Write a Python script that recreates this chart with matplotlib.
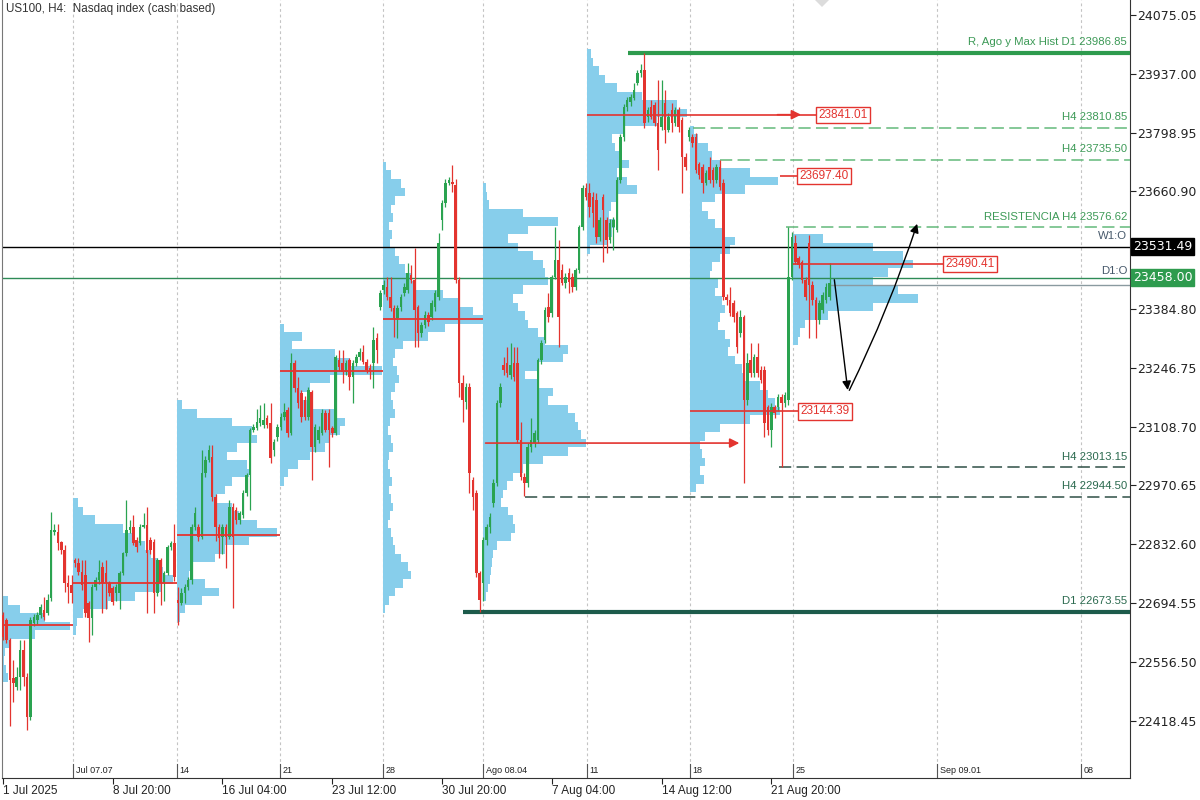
import matplotlib.pyplot as plt
import matplotlib.transforms as mtransforms
from matplotlib.patches import Polygon
import numpy as np

# H4 candles, 1 Jul - 27 Aug 2025 (one list entry per bar)
opens = [
    # week 1
    22666, 22655, 22608, 22518, 22497, 22521, 22584, 22521, 22427, 22647, 22654, 22666, 22678, 22671, 22706, 22861, 22861, 22837, 22819, 22741, 22737,
    # week 2
    22795, 22788, 22767, 22760, 22694, 22659, 22732, 22748, 22779, 22765, 22741, 22730, 22718, 22718, 22765, 22812, 22866, 22873, 22842, 22835,
    22873, 22878, 22842, 22837, 22718, 22795, 22741, 22765, 22826, 22835,
    # week 3
    22702, 22695, 22718, 22732, 22748, 22873, 22873, 22850, 23000, 23030, 23037, 22943, 22873, 22850, 22873, 22850, 22920, 22913, 22889, 22900,
    22953, 22995, 23101, 23105, 23117, 23112, 23129, 23117, 23054, 23084,
    # week 4
    23108, 23131, 23148, 23094, 23258, 23199, 23188, 23171, 23131, 23190, 23061, 23077, 23094, 23141, 23141, 23105, 23094, 23265, 23258, 23237,
    23265, 23225, 23258, 23272, 23284, 23261, 23246, 23258, 23317,
    # week 5
    23389, 23429, 23436, 23413, 23387, 23364, 23389, 23422, 23429, 23465, 23453, 23389, 23328, 23347, 23371, 23366, 23389, 23413, 23594, 23634,
    23681, 23683, 23676, 23453, 23211, 23166, 23202, 22983, 22953, 22765,
    # week 6
    22741, 22842, 22873, 22929, 22976, 23164, 23253, 23258, 23230, 23258, 23258, 23077, 22990, 22976, 23061, 23070, 23077, 23265, 23312, 23389,
    23375, 23460, 23500, 23476, 23446, 23470, 23460, 23436, 23476, 23577,
    # week 7
    23669, 23657, 23648, 23641, 23554, 23648, 23594, 23547, 23577, 23570, 23688, 23789, 23859, 23870, 23880, 23915, 23939, 23946, 23836, 23859,
    23864, 23822, 23812, 23868, 23805, 23852, 23822, 23852, 23829, 23742,
    # week 8
    23789, 23789, 23789, 23725, 23718, 23681, 23718, 23711, 23688, 23718, 23681, 23413, 23406, 23399, 23375, 23328, 23366, 23171, 23265, 23234,
    23272, 23242, 23242, 23155, 23101, 23155, 23155, 23178, 23164, 23171,
    # week 9
    23460, 23540, 23505, 23495, 23453, 23540, 23441, 23406, 23359, 23382, 23406, 23413,
]
highs = [
    22673, 22660, 22612, 22561, 22544, 22608, 22608, 22530, 22661, 22668, 22673, 22692, 22708, 22715, 22908, 22880, 22880, 22840, 22830, 22760, 22760,
    22800, 22800, 22795, 22795, 22700, 22740, 22755, 22795, 22790, 22795, 22745, 22735, 22740, 22770, 22815, 22936, 22890, 22900, 22850, 22880,
    22905, 22920, 22850, 22845, 22800, 22800, 22770, 22830, 22840, 22880,
    22732, 22730, 22740, 22755, 22880, 22920, 22880, 23054, 23040, 23065, 23065, 22950, 22880, 22880, 22880, 22936, 22930, 22920, 22910, 22960,
    23000, 23105, 23115, 23150, 23160, 23165, 23135, 23164, 23080, 23115,
    23140, 23164, 23155, 23281, 23265, 23225, 23195, 23180, 23202, 23195, 23115, 23110, 23150, 23148, 23150, 23110, 23277, 23289, 23289, 23265,
    23270, 23265, 23280, 23293, 23300, 23268, 23255, 23343, 23329,
    23429, 23453, 23460, 23460, 23395, 23395, 23420, 23445, 23493, 23488, 23528, 23395, 23355, 23380, 23378, 23405, 23430, 23563, 23640, 23690,
    23695, 23723, 23690, 23460, 23230, 23210, 23210, 22990, 22960, 22770,
    22850, 22880, 22905, 22985, 23170, 23210, 23272, 23296, 23305, 23296, 23296, 23120, 23000, 23070, 23129, 23100, 23270, 23312, 23390, 23422,
    23465, 23577, 23547, 23490, 23470, 23481, 23470, 23480, 23582, 23675,
    23681, 23681, 23660, 23657, 23600, 23655, 23600, 23595, 23600, 23695, 23795, 23865, 23883, 23890, 23915, 23946, 23960, 23987, 23860, 23876,
    23870, 23922, 23922, 23899, 23845, 23868, 23860, 23858, 23835, 23750,
    23812, 23795, 23798, 23730, 23725, 23712, 23742, 23718, 23725, 23735, 23690, 23420, 23436, 23405, 23380, 23382, 23370, 23281, 23305, 23280,
    23305, 23250, 23250, 23160, 23165, 23160, 23185, 23185, 23190, 23577,
    23565, 23559, 23510, 23500, 23460, 23559, 23450, 23412, 23405, 23425, 23445, 23493,
]
lows = [
    22607, 22600, 22405, 22462, 22490, 22490, 22500, 22396, 22420, 22640, 22645, 22660, 22655, 22666, 22700, 22855, 22820, 22810, 22720, 22695, 22694,
    22780, 22760, 22725, 22662, 22603, 22620, 22725, 22740, 22671, 22680, 22710, 22690, 22700, 22680, 22760, 22805, 22860, 22830, 22815, 22830,
    22870, 22671, 22810, 22671, 22710, 22690, 22700, 22760, 22820, 22745,
    22643, 22690, 22695, 22725, 22740, 22865, 22840, 22845, 22990, 23025, 22935, 22840, 22800, 22810, 22777, 22845, 22683, 22880, 22880, 22895,
    22945, 22913, 23095, 23100, 23110, 23105, 23105, 23023, 23040, 23075,
    23100, 23125, 23085, 23090, 23190, 23152, 23120, 23125, 23125, 22983, 23050, 23070, 23090, 23095, 23014, 23085, 23090, 23240, 23211, 23230,
    23195, 23164, 23250, 23265, 23255, 23235, 23220, 23199, 23258,
    23382, 23420, 23405, 23380, 23319, 23317, 23380, 23415, 23422, 23445, 23296, 23296, 23320, 23340, 23345, 23360, 23380, 23405, 23570, 23625,
    23675, 23660, 23445, 23178, 23120, 23150, 22953, 22913, 22755, 22673,
    22700, 22830, 22860, 22920, 22970, 23155, 23230, 23225, 23220, 23215, 23070, 22983, 22945, 22966, 23050, 23060, 23070, 23255, 23305, 23355,
    23366, 23455, 23296, 23440, 23435, 23422, 23425, 23430, 23470, 23570,
    23640, 23600, 23577, 23540, 23545, 23495, 23517, 23540, 23523, 23565, 23680, 23780, 23850, 23862, 23875, 23910, 23930, 23810, 23825, 23830,
    23815, 23711, 23805, 23775, 23800, 23800, 23815, 23800, 23657, 23711,
    23780, 23765, 23705, 23690, 23657, 23675, 23680, 23671, 23680, 23665, 23406, 23395, 23368, 23355, 23281, 23320, 22976, 23160, 23225, 23225,
    23225, 23210, 23084, 23090, 23061, 23130, 23145, 23013, 23155, 23160,
    23453, 23490, 23480, 23445, 23405, 23317, 23395, 23317, 23350, 23375, 23400, 23405,
]
closes = [
    22615, 22608, 22514, 22506, 22521, 22584, 22521, 22427, 22654, 22661, 22666, 22685, 22661, 22701, 22866, 22866, 22835, 22819, 22741, 22732, 22718,
    22788, 22767, 22737, 22671, 22659, 22732, 22748, 22767, 22741, 22744, 22718, 22697, 22732, 22765, 22812, 22866, 22873, 22835, 22826, 22873,
    22878, 22812, 22819, 22718, 22795, 22741, 22765, 22826, 22835, 22756,
    22695, 22718, 22732, 22748, 22873, 22906, 22850, 23000, 23030, 23054, 22943, 22873, 22847, 22873, 22850, 22920, 22850, 22889, 22906, 22953,
    22995, 23101, 23108, 23120, 23129, 23125, 23112, 23035, 23073, 23108,
    23131, 23143, 23094, 23258, 23199, 23164, 23131, 23131, 23195, 23061, 23108, 23101, 23141, 23101, 23101, 23094, 23272, 23249, 23237, 23258,
    23225, 23258, 23272, 23284, 23261, 23242, 23237, 23312, 23289,
    23422, 23441, 23413, 23387, 23364, 23387, 23413, 23436, 23469, 23453, 23382, 23328, 23347, 23371, 23354, 23399, 23422, 23540, 23634, 23681,
    23688, 23678, 23453, 23211, 23171, 23202, 23000, 22943, 22765, 22702,
    22842, 22873, 22896, 22976, 23164, 23202, 23242, 23234, 23253, 23225, 23077, 22990, 22976, 23061, 23077, 23094, 23265, 23305, 23382, 23366,
    23460, 23500, 23366, 23446, 23460, 23448, 23436, 23476, 23577, 23669,
    23648, 23624, 23610, 23554, 23594, 23617, 23547, 23587, 23594, 23688, 23789, 23859, 23876, 23883, 23899, 23939, 23946, 23822, 23852, 23836,
    23822, 23758, 23836, 23805, 23836, 23822, 23852, 23812, 23742, 23718,
    23805, 23775, 23711, 23700, 23681, 23704, 23688, 23688, 23718, 23671, 23413, 23406, 23375, 23366, 23296, 23366, 23171, 23258, 23234, 23272,
    23234, 23218, 23117, 23101, 23155, 23141, 23178, 23164, 23183, 23460,
    23554, 23495, 23488, 23453, 23413, 23441, 23406, 23359, 23399, 23418, 23436, 23446,
]

# weekly volume profiles: top price of each profile, 20-pt bins, volume per bin (top -> bottom)
week_starts = [-0.9, 20.4, 50.7, 80.8, 110.8, 139.9, 170.3, 200.3, 230.3]
future_weeks = [272.3, 314.3]
week_labels = ['Jul 07.07', '14', '21', '28', 'Ago 08.04', '11', '18', '25', 'Sep 09.01', '08']
bin_size = 20
profile_tops = [22710, 22940, 23170, 23350, 23730, 23680, 23995, 23815, 23560]
vp1 = [8, 20, 45, 70, 35, 10, 5, 4, 6, 8, 3]
vp2 = [5, 10, 22, 50, 60, 72, 78, 85, 90, 100, 88, 62, 35, 10, 4, 3]
vp3 = [5, 20, 55, 75, 80, 60, 50, 70, 72, 55, 48, 40, 55, 62, 80, 100, 72, 48, 38, 15, 12, 28, 42, 25, 8, 3]
vp4 = [4, 22, 12, 55, 70, 102, 50, 30, 22, 30, 55, 65, 60, 50, 45, 30, 18, 8, 4]
vp5 = [3, 8, 18, 22, 12, 8, 10, 6, 9, 7, 12, 16, 22, 28, 30, 60, 75, 90, 100, 62, 45, 20, 12, 10, 14, 16, 12,
       8, 10, 12, 7, 5, 8, 10, 6, 5, 7, 9, 6, 8, 10, 7, 5, 8, 10, 12, 18, 25, 28, 20, 12, 6, 2]
vp6 = [3, 4, 6, 40, 75, 45, 25, 35, 50, 60, 62, 65, 40, 30, 35, 42, 45, 55, 62, 85, 80, 55, 42, 55, 70,
       65, 85, 92, 95, 98, 103, 85, 60, 40, 30, 24, 20, 18, 25, 30, 32, 28, 14, 10, 9, 8, 7, 5, 3]
vp7 = [4, 6, 12, 18, 30, 55, 90, 100, 70, 38, 25, 28, 35, 42, 30, 40, 50, 30, 24, 22, 28, 25, 20, 3]
vp8 = [4, 8, 18, 22, 30, 60, 88, 55, 25, 12, 18, 25, 35, 45, 40, 30, 22, 20, 28, 25, 32, 35, 30, 28, 35,
       40, 38, 45, 52, 55, 70, 78, 85, 90, 60, 30, 15, 10, 12, 15, 10, 14, 6]
vp9 = [30, 80, 110, 120, 95, 80, 105, 125, 80, 35, 12, 7, 5]
profiles = [vp1, vp2, vp3, vp4, vp5, vp6, vp7, vp8, vp9]
vol_per_bar = 3.43

# POC lines of weeks 1-5
poc_prices = [22643, 22741, 22854, 23239, 23362]

# marked levels
level_prices = [23986.85, 23810.85, 23735.50, 23576.62, 23013.15, 22944.50, 22673.55]
level_from = [182.2, 201.2, 209.0, 228.3, 226.2, 152.2, 134.1]
level_texts = ['R, Ago y Max Hist D1 23986.85', 'H4 23810.85', 'H4 23735.50', 'RESISTENCIA H4 23576.62',
               'H4 23013.15', 'H4 22944.50', 'D1 22673.55']
week_open = 23531.49
day_open = 23458.00
bid = 23441

# red price tags
tag_prices = [23841.01, 23697.40, 23490.41, 23144.39]
tag_from = [170.3, 226.5, 230.3, 200.3]
tag_at = [237.0, 231.5, 274.1, 231.8]
poc6_price = 23070
poc6_span = [139.9, 215.5]

# projected path (black arrows)
path_bars = [242.3, 246.4, 266.8]
path_prices = [23460, 23188, 23591]

yticks = [24075.05, 23937.00, 23798.95, 23660.90, 23384.80, 23246.75, 23108.70,
          22970.65, 22832.60, 22694.55, 22556.50, 22418.45]
xtick_bars = [0, 32, 64, 96, 128, 160, 192, 224]
xtick_labels = ['1 Jul 2025', '8 Jul 20:00', '16 Jul 04:00', '23 Jul 12:00', '30 Jul 20:00',
                '7 Aug 04:00', '14 Aug 12:00', '21 Aug 20:00']

GREEN = '#2aa350'
RED = '#e3342f'
BLUE = '#87ceeb'
LBL = 'Liberation Sans'

fig = plt.figure(figsize=(12, 8), dpi=100)
ax = fig.add_axes([2 / 1200, 22 / 800, 1128 / 1200, 778 / 800])
ax.set_xlim(-0.29, 328.6)
ax.set_ylim(22283.6, 24110.3)

# week separators
for s in week_starts[1:] + future_weeks:
    ax.axvline(s, color='#c4c4c4', lw=0.8, ls=(0, (2.5, 2.5)), zorder=0.5)
trans_xd = mtransforms.blended_transform_factory(ax.transData, ax.transAxes)
for s, lab in zip(week_starts[1:] + future_weeks, week_labels):
    ax.plot([s, s], [0, 14 / 778], color='#555555', lw=0.8, transform=trans_xd, zorder=7)
    ax.text(s + 0.8, 3 / 778, lab, transform=trans_xd, fontsize=6.5, family=LBL,
            color='#222222', va='bottom', ha='left')

# volume profiles
for start, top, vols in zip(week_starts, profile_tops, profiles):
    vols = np.array(vols, dtype=float)
    levels = top - bin_size * (np.arange(len(vols)) + 0.5)
    ax.barh(levels, vols / vol_per_bar, height=bin_size, left=start, color=BLUE, lw=0, zorder=1)

# full width lines
ax.axhline(week_open, color='black', lw=1, zorder=2)
ax.axhline(day_open, color='#2e8b57', lw=1, zorder=2)
ax.hlines(bid, len(closes) - 1, 328.6, color='#8a9aa0', lw=1, zorder=2)

# candles
x = np.arange(len(closes))
o, h, l, c = (np.array(v, dtype=float) for v in (opens, highs, lows, closes))
cols = np.where(c >= o, GREEN, RED)
ax.vlines(x, l, h, colors=cols, lw=0.9, zorder=4)
body = np.maximum(np.abs(c - o), 3)
ax.bar(x, body, bottom=np.minimum(o, c), width=0.74, color=cols, lw=0, zorder=5)

# POC lines
for i, p in enumerate(poc_prices):
    ax.hlines(p, week_starts[i], week_starts[i + 1], color=RED, lw=1.3, zorder=6)
ax.annotate('', xy=(poc6_span[1], poc6_price), xytext=(poc6_span[0], poc6_price),
            arrowprops=dict(arrowstyle='-|>', color=RED, lw=1.2, mutation_scale=14), zorder=6)

# red tags
for p, x0, x1 in zip(tag_prices, tag_from, tag_at):
    ax.hlines(p, x0, x1, color=RED, lw=1.2, zorder=6)
    ax.text(x1 + 0.7, p, f'{p:.2f}', fontsize=8.5, family=LBL, color=RED, va='center', ha='left',
            bbox=dict(boxstyle='square,pad=0.18', fc='white', ec=RED, lw=1), zorder=8)
ax.annotate('', xy=(233.5, tag_prices[0]), xytext=(225, tag_prices[0]),
            arrowprops=dict(arrowstyle='-|>', color=RED, lw=1.2, mutation_scale=14), zorder=6)

# levels
trans_ad = mtransforms.blended_transform_factory(ax.transAxes, ax.transData)
for i, (p, x0, txt) in enumerate(zip(level_prices, level_from, level_texts)):
    if i == 0:
        ax.hlines(p, x0, 328.6, color='#2e9b4e', lw=3, zorder=3)
        tc = '#3d9a57'
    elif i == 6:
        ax.hlines(p, x0, 328.6, color='#1d5b4b', lw=3, zorder=3)
        tc = '#2b6a4f'
    elif i < 4:
        ax.hlines(p, x0, 328.6, color='#63b97a', lw=1.1, ls=(0, (8, 3.5)), zorder=3)
        tc = '#3d9a57'
    else:
        ax.hlines(p, x0, 328.6, color='#2f4f46', lw=1.1, ls=(0, (8, 3.5)), zorder=3)
        tc = '#2b6a4f'
    ax.annotate(txt, xy=(0.9975, p), xycoords=trans_ad, xytext=(0, 4), textcoords='offset points',
                ha='right', va='bottom', fontsize=8.2, family=LBL, color=tc)
ax.annotate('W1:O', xy=(0.9975, week_open), xycoords=trans_ad, xytext=(0, 4), textcoords='offset points',
            ha='right', va='bottom', fontsize=8.2, family=LBL, color='#46586a')
ax.annotate('D1:O', xy=(0.9975, day_open), xycoords=trans_ad, xytext=(0, 1), textcoords='offset points',
            ha='right', va='bottom', fontsize=8.2, family=LBL, color='#46586a')

# projected path
for k in range(2):
    ax.annotate('', xy=(path_bars[k + 1], path_prices[k + 1]), xytext=(path_bars[k], path_prices[k]),
                arrowprops=dict(arrowstyle='-|>', color='black', lw=1, mutation_scale=13,
                                connectionstyle='arc3,rad=%s' % (0.0 if k == 0 else 0.035)), zorder=7)

# right axis
ax.yaxis.tick_right()
ax.set_yticks(yticks, labels=[f'{v:.2f}' for v in yticks])
ax.tick_params(axis='y', direction='out', length=4, labelsize=9, pad=1, colors='#222222')
ax.set_xticks(xtick_bars, labels=xtick_labels)
ax.tick_params(axis='x', direction='out', length=4, labelsize=8.5, pad=1, colors='#222222')
for lab in ax.get_xticklabels():
    lab.set_ha('left')
    lab.set_family(LBL)
for lab in ax.get_yticklabels():
    lab.set_family('DejaVu Sans')

ax.annotate(f'{week_open:.2f}', xy=(1.0, week_open), xycoords=trans_ad, xytext=(2, 0), textcoords='offset points',
            ha='left', va='center', fontsize=9, color='white', annotation_clip=False,
            bbox=dict(boxstyle='square,pad=0.15', fc='black', ec='black'), zorder=10)
ax.annotate(f'{day_open:.2f}', xy=(1.0, day_open), xycoords=trans_ad, xytext=(2, 0), textcoords='offset points',
            ha='left', va='center', fontsize=9, color='white', annotation_clip=False,
            bbox=dict(boxstyle='square,pad=0.15', fc='#2e9b4e', ec='#2e9b4e'), zorder=10)

ax.spines['top'].set_visible(False)
ax.spines['left'].set_color('#777777')
ax.spines['right'].set_color('#333333')
ax.spines['bottom'].set_color('#333333')

ax.text(4 / 1128, 1 - 9 / 778, 'US100, H4:  Nasdaq index (cash based)', transform=ax.transAxes,
        fontsize=8.4, family=LBL, color='#333333', va='center', ha='left')
fig.patches.append(Polygon([[815 / 1200, 1], [829 / 1200, 1], [822 / 1200, 793 / 800]],
                           closed=True, transform=fig.transFigure, fc='#dcdcdc', ec='none'))

fig.savefig('out.png', dpi=100)
